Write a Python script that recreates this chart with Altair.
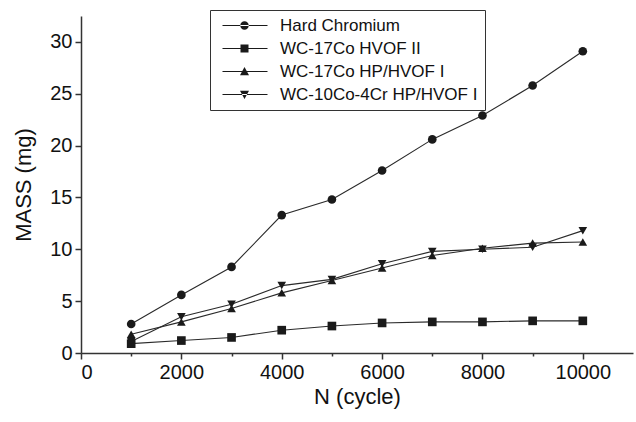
import altair as alt
import pandas as pd

cycles = [1000, 2000, 3000, 4000, 5000, 6000, 7000, 8000, 9000, 10000]
series_names = ["Hard Chromium", "WC-17Co HVOF II", "WC-17Co HP/HVOF I", "WC-10Co-4Cr HP/HVOF I"]
hard_chromium = [2.8, 5.6, 8.3, 13.3, 14.8, 17.6, 20.6, 22.9, 25.8, 29.1]
wc17co_hvof2 = [0.9, 1.2, 1.5, 2.2, 2.6, 2.9, 3.0, 3.0, 3.1, 3.1]
wc17co_hphvof1 = [1.8, 3.0, 4.3, 5.8, 7.0, 8.2, 9.4, 10.1, 10.6, 10.7]
wc10co4cr_hphvof1 = [1.1, 3.5, 4.7, 6.5, 7.1, 8.6, 9.8, 10.0, 10.2, 11.8]

x_ticks = list(range(0, 10001, 1000))
y_ticks = [i * 2.5 for i in range(0, 14)]

rows = []
for name, vals in zip(series_names, [hard_chromium, wc17co_hvof2, wc17co_hphvof1, wc10co4cr_hphvof1]):
    for c, v in zip(cycles, vals):
        rows.append({"cycle": c, "mass": v, "series": name})
df = pd.DataFrame(rows)

FONT = "Liberation Sans"
INK = "#1a1a1a"

x_enc = alt.X(
    "cycle:Q",
    scale=alt.Scale(domain=[0, 11000], nice=False, zero=False),
    axis=alt.Axis(
        title="N (cycle)",
        values=x_ticks,
        format="d",
        labelExpr="datum.value % 2000 === 0 ? datum.label : ''",
        tickSize={"condition": {"test": "datum.value % 2000 === 0", "value": 6}, "value": 3},
        grid=False,
    ),
)
y_enc = alt.Y(
    "mass:Q",
    scale=alt.Scale(domain=[0, 32.5], nice=False),
    axis=alt.Axis(
        title="MASS (mg)",
        values=y_ticks,
        labelExpr="datum.value % 5 === 0 ? datum.label : ''",
        tickSize={"condition": {"test": "datum.value % 5 === 0", "value": 6}, "value": 3},
        grid=False,
    ),
)

shape_plain = alt.Scale(domain=series_names,
                        range=["circle", "square", "triangle-up", "triangle-down"])

lines = alt.Chart(df).mark_line(strokeWidth=1.1, color="#2a2a2a").encode(
    x=x_enc, y=y_enc, detail="series:N"
)
points = alt.Chart(df).mark_point(filled=True, opacity=1, color=INK, size=75).encode(
    x="cycle:Q", y="mass:Q",
    shape=alt.Shape("series:N", scale=shape_plain, legend=None),
)

# legend symbols: a short line (thin filled bar) with the marker on it
ln = "M-0.6,-0.1H8.4V0.1H-0.6Z"
c = 3.8
legend_paths = [
    ln + f"M{c-0.85},0A0.85,0.85 0 1,0 {c+0.85},0A0.85,0.85 0 1,0 {c-0.85},0Z",
    ln + f"M{c-0.8},-0.8H{c+0.8}V0.8H{c-0.8}Z",
    ln + f"M{c},-0.9L{c+0.9},0.75L{c-0.9},0.75Z",
    ln + f"M{c},0.9L{c+0.9},-0.75L{c-0.9},-0.75Z",
]
legend_layer = alt.Chart(df).transform_filter("false").mark_point(
    filled=True, color=INK, opacity=1
).encode(
    x="cycle:Q", y="mass:Q",
    shape=alt.Shape(
        "series:N",
        scale=alt.Scale(domain=series_names, range=legend_paths),
        legend=alt.Legend(
            title=None,
            orient="none",
            legendX=129,
            legendY=-6,
            symbolSize=100,
            symbolOpacity=1,
            symbolFillColor=INK,
            labelFont=FONT,
            labelFontSize=17,
            labelColor="#111",
            labelOffset=46,
            labelLimit=400,
            rowPadding=5,
            padding=7,
            strokeColor="#333",
            fillColor="white",
        ),
    ),
)

chart = alt.layer(lines, points, legend_layer).resolve_scale(shape="independent").properties(
    width=552, height=337,
    autosize=alt.AutoSizeParams(type="none"),
    padding={"left": 81, "top": 16, "right": 3, "bottom": 69},
    background="white",
).configure_view(stroke=None).configure_axis(
    labelFont=FONT, titleFont=FONT,
    labelFontSize=20, titleFontSize=22,
    titleFontWeight="normal",
    labelColor="#111", titleColor="#111",
    domainColor="#333", tickColor="#333",
    domainWidth=1.5, tickWidth=1.5,
    labelPadding=3,
).configure_axisX(titlePadding=4).configure_axisY(titlePadding=14)

chart.save("out.html", embed_options={"renderer": "svg", "actions": False})
